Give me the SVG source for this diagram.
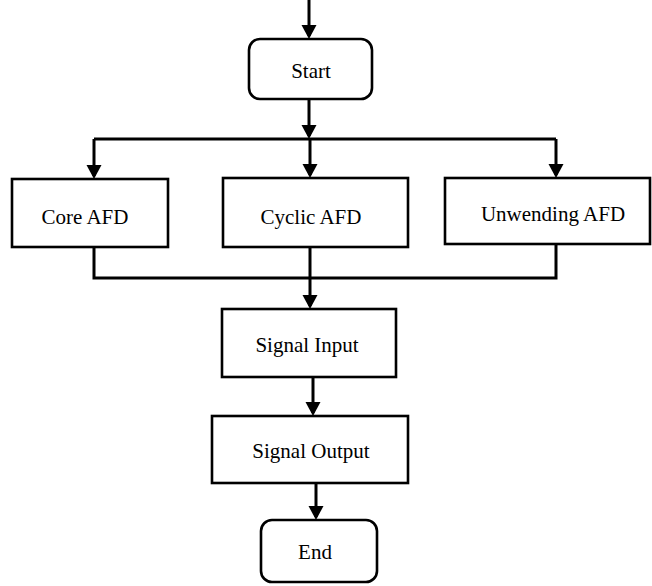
<svg xmlns="http://www.w3.org/2000/svg" width="652" height="586" viewBox="0 0 652 586">
  <style>
    .box { fill: #ffffff; stroke: #000000; stroke-width: 2.6; }
    .lbl { font-family: "Liberation Serif", "Times New Roman", serif; font-size: 21px; fill: #000000; text-anchor: middle; }
    .wire { fill: none; stroke: #000000; stroke-width: 3; }
  </style>
  <defs>
    <marker id="arrow" markerUnits="userSpaceOnUse" markerWidth="15" markerHeight="16" refX="11" refY="7.5" orient="auto">
      <path d="M0,0 L14,7.5 L0,15 z" fill="#000000"/>
    </marker>
  </defs>

  <g id="connectors">
    <line class="wire" x1="309" y1="0" x2="309" y2="36" marker-end="url(#arrow)"/>
    <line class="wire" x1="309" y1="99" x2="309" y2="136" marker-end="url(#arrow)"/>
    <line class="wire" x1="94" y1="139" x2="556" y2="139"/>
    <line class="wire" x1="94" y1="139" x2="94" y2="176" marker-end="url(#arrow)"/>
    <line class="wire" x1="310" y1="139" x2="310" y2="175" marker-end="url(#arrow)"/>
    <line class="wire" x1="556" y1="139" x2="556" y2="175" marker-end="url(#arrow)"/>
    <polyline class="wire" points="94,247 94,278 556,278 556,244"/>
    <line class="wire" x1="310" y1="247" x2="310" y2="306" marker-end="url(#arrow)"/>
    <line class="wire" x1="313" y1="377" x2="313" y2="413" marker-end="url(#arrow)"/>
    <line class="wire" x1="316" y1="483" x2="316" y2="517" marker-end="url(#arrow)"/>
  </g>

  <g id="start">
    <rect class="box" x="249" y="39" width="123" height="60" rx="11"/>
    <text class="lbl" x="311" y="78">Start</text>
  </g>
  <g id="core-afd">
    <rect class="box" x="12" y="179" width="156" height="68"/>
    <text class="lbl" x="85" y="224">Core AFD</text>
  </g>
  <g id="cyclic-afd">
    <rect class="box" x="223" y="178" width="185" height="69"/>
    <text class="lbl" x="311" y="224">Cyclic AFD</text>
  </g>
  <g id="unwending-afd">
    <rect class="box" x="445" y="178" width="205" height="66"/>
    <text class="lbl" x="553" y="221">Unwending AFD</text>
  </g>
  <g id="signal-input">
    <rect class="box" x="222" y="309" width="174" height="68"/>
    <text class="lbl" x="307" y="352">Signal Input</text>
  </g>
  <g id="signal-output">
    <rect class="box" x="212" y="416" width="196" height="67"/>
    <text class="lbl" x="311" y="458">Signal Output</text>
  </g>
  <g id="end">
    <rect class="box" x="261" y="520" width="116" height="62" rx="11"/>
    <text class="lbl" x="315" y="559">End</text>
  </g>
</svg>
